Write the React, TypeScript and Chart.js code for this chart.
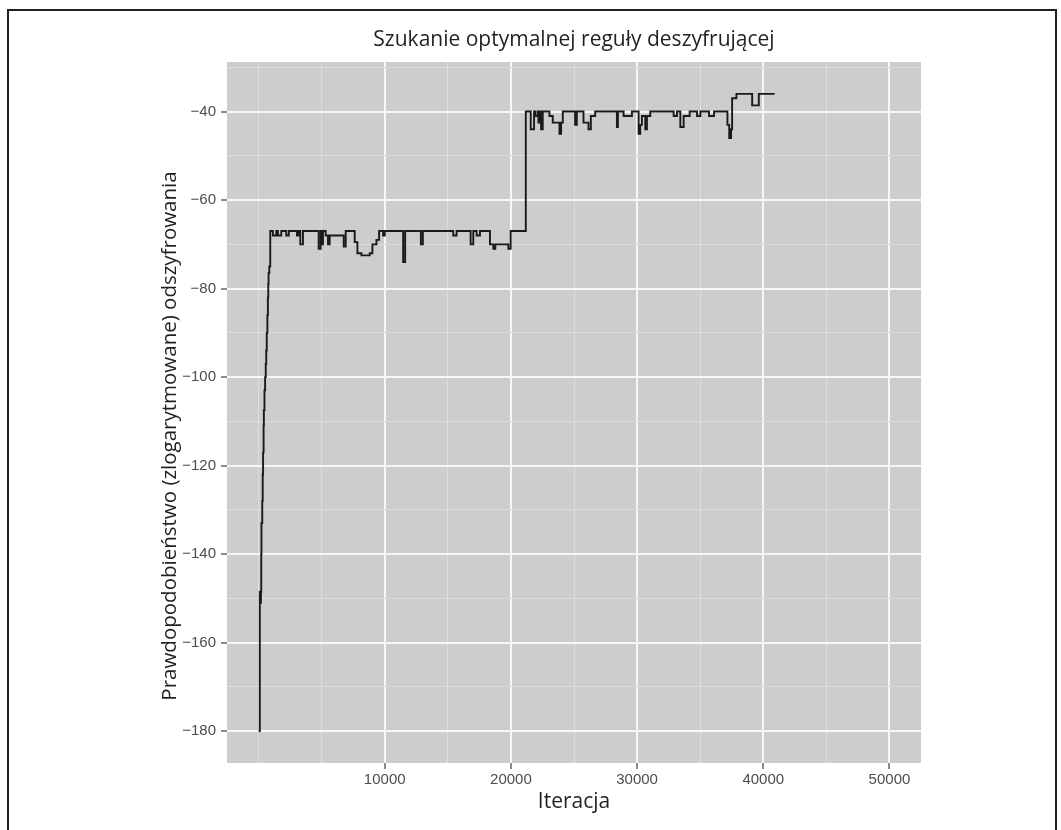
import { useEffect, useRef } from "react";
import { Chart, registerables } from "chart.js";

Chart.register(...registerables);

const TITLE = "Szukanie optymalnej reguły deszyfrującej";
const X_TITLE = "Iteracja";
const Y_TITLE = "Prawdopodobieństwo (zlogarytmowane) odszyfrowania";

// Iteration at which each new log-likelihood level starts (step function)
const iterations = [
  0, 100, 140, 190, 214, 230, 294, 330, 360, 400, 421, 470, 520, 570, 611, 650, 700, 740, 770, 794, 850, 929,
  1138, 1403, 1535, 1800, 2197, 2400, 3044, 3176, 3308, 3520, 4764, 4923, 4976, 5108, 5320, 5505, 5637,
  6749, 6908, 7622, 7834, 8152, 8813, 9025, 9343, 9554, 9872, 10004, 11460, 11619, 12863, 13022,
  15430, 15695, 16807, 17018, 17283, 17547, 18341, 18606, 18765, 19797, 19982, 21180,
  21570, 21835, 21914, 22100, 22180, 22311, 22391, 22523, 23053, 23317, 23847, 23979, 24112,
  25090, 25222, 25752, 26149, 26334, 26678, 28400, 28480, 28930, 29590, 30120, 30251, 30383,
  30648, 30780, 31045, 32897, 33162, 33427, 33692, 34168, 34750, 35015, 35700, 36100,
  37160, 37300, 37450, 37530, 37870, 39120, 39645, 40900,
];

const logLikelihood = [
  -180, -148.5, -151, -148.5, -140, -133, -128, -122, -117, -111, -107.5, -103, -100, -97, -94, -90, -86, -82, -79, -76.5, -75, -67,
  -68, -67, -68, -67, -68, -67, -68, -67, -70, -67, -71, -67, -70, -67, -68, -70, -68,
  -70.5, -67, -69.5, -72, -72.5, -72, -70, -69, -67, -68, -67, -74, -67, -70, -67,
  -68, -67, -70, -67, -68, -67, -70, -71, -70, -71, -67, -40,
  -44, -40, -41, -40, -42.5, -40, -44, -40, -41, -42.5, -45, -42.5, -40,
  -43, -40, -42.5, -44, -41, -40, -43.5, -40, -41, -40, -45, -43, -41,
  -44, -41, -40, -41, -40, -43.5, -41, -40, -41, -40, -41, -40,
  -43, -46, -44, -37, -36, -38.6, -36, -36,
];

const xMajorTicks = [10000, 20000, 30000, 40000, 50000];
const xMinorTicks = [0, 5000, 15000, 25000, 35000, 45000];
const yMajorTicks = [-180, -160, -140, -120, -100, -80, -60, -40];
const yMinorTicks = [-170, -150, -130, -110, -90, -70, -50, -30];
const xRange = [-2500, 52500];
const yRange = [-187.2, -28.8];

const TICK_FONT = { family: "'Liberation Sans', Arial, sans-serif", size: 15 };
const TITLE_FONT = { family: "'Open Sans', sans-serif", size: 21, weight: "normal" as const };
const Y_TITLE_SIZE = 20.5;

const PANEL_BG = "#cdcdcf";
const MAJOR_GRID = "#f6f6f6";
const MINOR_GRID = "#dddddf";
const TICK_COLOR = "#4d4d4d";
const TEXT_COLOR = "#231f20";

const panelBg = {
  id: "panelBg",
  beforeDraw(chart: any) {
    const { ctx, chartArea } = chart;
    if (!chartArea) return;
    ctx.save();
    ctx.fillStyle = PANEL_BG;
    ctx.fillRect(chartArea.left, chartArea.top, chartArea.right - chartArea.left, chartArea.bottom - chartArea.top);
    ctx.restore();
  },
};

// y-axis title, placed where the reference has it (slightly below the panel centre)
const yAxisTitle = {
  id: "yAxisTitle",
  afterDraw(chart: any) {
    const { ctx } = chart;
    ctx.save();
    ctx.translate(170, 436);
    ctx.rotate(-Math.PI / 2);
    ctx.font = `normal ${Y_TITLE_SIZE}px 'Open Sans', sans-serif`;
    ctx.fillStyle = TEXT_COLOR;
    ctx.textAlign = "center";
    ctx.textBaseline = "middle";
    ctx.fillText(Y_TITLE, 0, 0);
    ctx.restore();
  },
};

const fmt = (v: number) => (v < 0 ? "\u2212" + Math.abs(v) : String(v));

export default function App() {
  const ref = useRef<HTMLCanvasElement | null>(null);

  useEffect(() => {
    if (!ref.current) return;
    const points = iterations.map((x, i) => ({ x, y: logLikelihood[i] }));
    const isXMajor = (v: number) => xMajorTicks.includes(v);
    const isYMajor = (v: number) => yMajorTicks.includes(v);

    const chart = new Chart(ref.current, {
      type: "line",
      data: {
        datasets: [
          {
            data: points,
            stepped: "before",
            borderColor: "#1a1a1a",
            borderWidth: 1.9,
            pointRadius: 0,
            fill: false,
          },
        ],
      },
      plugins: [panelBg, yAxisTitle],
      options: {
        animation: false,
        responsive: false,
        devicePixelRatio: 1,
        layout: { padding: { left: 0, right: 140, top: 0, bottom: 0 } },
        plugins: {
          legend: { display: false },
          tooltip: { enabled: false },
          title: {
            display: true,
            text: TITLE,
            fullSize: false,
            color: TEXT_COLOR,
            font: TITLE_FONT,
            padding: { top: 27, bottom: 9.8 },
          },
        },
        scales: {
          x: {
            type: "linear",
            min: xRange[0],
            max: xRange[1],
            afterBuildTicks: (s: any) => {
              s.ticks = [...xMinorTicks, ...xMajorTicks].sort((a, b) => a - b).map((v) => ({ value: v }));
            },
            afterFit: (s: any) => {
              s.height = 67;
            },
            ticks: {
              autoSkip: false,
              maxRotation: 0,
              padding: 2,
              color: TICK_COLOR,
              font: TICK_FONT,
              callback: (v: any) => (isXMajor(Number(v)) ? String(v) : ""),
            },
            grid: {
              color: (c: any) => (isXMajor(c.tick?.value) ? MAJOR_GRID : MINOR_GRID),
              lineWidth: (c: any) => (isXMajor(c.tick?.value) ? 2 : 1),
              tickColor: (c: any) => (isXMajor(c.tick?.value) ? TICK_COLOR : "rgba(0,0,0,0)"),
              tickLength: 6,
              tickWidth: 1.3,
            },
            border: { display: false },
            title: {
              display: true,
              text: X_TITLE,
              color: TEXT_COLOR,
              font: TITLE_FONT,
              padding: { top: 0, bottom: 15.4 },
            },
          },
          y: {
            type: "linear",
            min: yRange[0],
            max: yRange[1],
            afterBuildTicks: (s: any) => {
              s.ticks = [...yMajorTicks, ...yMinorTicks].sort((a, b) => a - b).map((v) => ({ value: v }));
            },
            afterFit: (s: any) => {
              s.width = 227;
            },
            ticks: {
              autoSkip: false,
              padding: 5,
              color: TICK_COLOR,
              font: TICK_FONT,
              callback: (v: any) => (isYMajor(Number(v)) ? fmt(Number(v)) : ""),
            },
            grid: {
              color: (c: any) => (isYMajor(c.tick?.value) ? MAJOR_GRID : MINOR_GRID),
              lineWidth: (c: any) => (isYMajor(c.tick?.value) ? 2 : 1),
              tickColor: (c: any) => (isYMajor(c.tick?.value) ? TICK_COLOR : "rgba(0,0,0,0)"),
              tickLength: 6,
              tickWidth: 1.3,
            },
            border: { display: false },
            title: { display: false },
          },
        },
      },
    } as any);

    return () => chart.destroy();
  }, []);

  return (
    <div style={{ position: "absolute", left: 0, top: 0, width: 1061, height: 830, overflow: "hidden" }}>
      <div
        style={{
          position: "absolute",
          left: 7,
          top: 9,
          width: 1050,
          height: 821,
          boxSizing: "border-box",
          borderTop: "2px solid #231f20",
          borderLeft: "2px solid #231f20",
          borderRight: "2px solid #231f20",
        }}
      />
      <canvas ref={ref} width={1061} height={830} style={{ position: "absolute", left: 0, top: 0 }} />
    </div>
  );
}
